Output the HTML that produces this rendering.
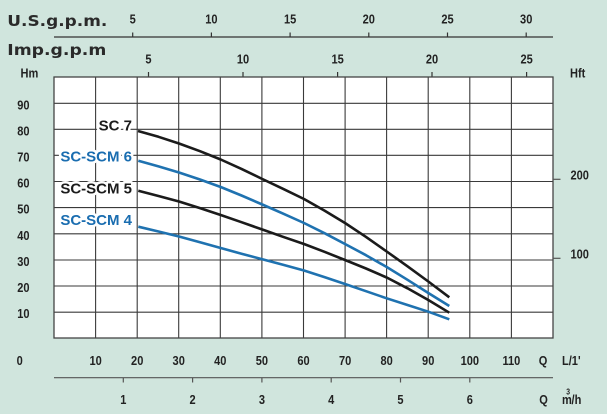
<!DOCTYPE html>
<html>
<head>
<meta charset="utf-8">
<style>
  html,body{margin:0;padding:0;background:#d0e5dd;}
  svg{display:block;}
  .n{font-family:"Liberation Sans",Arial,sans-serif;font-weight:bold;font-size:13px;fill:#222;}
  .t{font-family:"DejaVu Sans","Liberation Sans",sans-serif;font-weight:bold;font-size:15px;fill:#2a2a2a;}
  .lb{font-family:"Liberation Sans",Arial,sans-serif;font-weight:bold;font-size:15px;stroke:#fff;stroke-width:5;paint-order:stroke;stroke-linejoin:round;}
</style>
</head>
<body>
<svg width="607" height="414" viewBox="0 0 607 414" xmlns="http://www.w3.org/2000/svg">
  <rect x="0" y="0" width="607" height="414" fill="#d0e5dd"/>

  <!-- Top axis labels -->
  <text class="t" x="7.3" y="26" textLength="100" lengthAdjust="spacingAndGlyphs">U.S.g.p.m.</text>
  <text class="t" x="7.3" y="55" textLength="99" lengthAdjust="spacingAndGlyphs">Imp.g.p.m</text>

  <!-- US gpm axis -->
  <line x1="54" y1="37" x2="553" y2="37" stroke="#333" stroke-width="1.2"/>
  <g stroke="#333" stroke-width="1.2">
    <line x1="132.7" y1="32.5" x2="132.7" y2="37"/>
    <line x1="211.4" y1="32.5" x2="211.4" y2="37"/>
    <line x1="290.1" y1="32.5" x2="290.1" y2="37"/>
    <line x1="368.8" y1="32.5" x2="368.8" y2="37"/>
    <line x1="447.5" y1="32.5" x2="447.5" y2="37"/>
    <line x1="526.2" y1="32.5" x2="526.2" y2="37"/>
  </g>
  <g class="n" text-anchor="middle">
    <text transform="translate(132.7,23.3) scale(0.85,1)">5</text>
    <text transform="translate(211.4,23.3) scale(0.85,1)">10</text>
    <text transform="translate(290.1,23.3) scale(0.85,1)">15</text>
    <text transform="translate(368.8,23.3) scale(0.85,1)">20</text>
    <text transform="translate(447.5,23.3) scale(0.85,1)">25</text>
    <text transform="translate(526.2,23.3) scale(0.85,1)">30</text>
  </g>

  <!-- Imp gpm ticks -->
  <g stroke="#333" stroke-width="1.2">
    <line x1="148.5" y1="72" x2="148.5" y2="77"/>
    <line x1="243" y1="72" x2="243" y2="77"/>
    <line x1="337.6" y1="72" x2="337.6" y2="77"/>
    <line x1="432" y1="72" x2="432" y2="77"/>
    <line x1="526.6" y1="72" x2="526.6" y2="77"/>
  </g>
  <g class="n" text-anchor="middle">
    <text transform="translate(148.5,63.3) scale(0.85,1)">5</text>
    <text transform="translate(243,63.3) scale(0.85,1)">10</text>
    <text transform="translate(337.6,63.3) scale(0.85,1)">15</text>
    <text transform="translate(432,63.3) scale(0.85,1)">20</text>
    <text transform="translate(526.6,63.3) scale(0.85,1)">25</text>
  </g>

  <!-- Hm / Hft -->
  <text class="n" transform="translate(20.5,77.3) scale(0.85,1)">Hm</text>
  <text class="n" transform="translate(570,77.3) scale(0.85,1)">Hft</text>

  <!-- Plot area -->
  <rect x="54" y="77" width="499" height="261" fill="#ffffff"/>
  <g stroke="#3a3a3a" stroke-width="1.1">
    <line x1="95.6" y1="77" x2="95.6" y2="338"/>
    <line x1="137.2" y1="77" x2="137.2" y2="338"/>
    <line x1="178.7" y1="77" x2="178.7" y2="338"/>
    <line x1="220.3" y1="77" x2="220.3" y2="338"/>
    <line x1="261.9" y1="77" x2="261.9" y2="338"/>
    <line x1="303.5" y1="77" x2="303.5" y2="338"/>
    <line x1="345.1" y1="77" x2="345.1" y2="338"/>
    <line x1="386.6" y1="77" x2="386.6" y2="338"/>
    <line x1="428.2" y1="77" x2="428.2" y2="338"/>
    <line x1="469.8" y1="77" x2="469.8" y2="338"/>
    <line x1="511.4" y1="77" x2="511.4" y2="338"/>

    <line x1="54" y1="103.3" x2="553" y2="103.3"/>
    <line x1="54" y1="129.3" x2="553" y2="129.3"/>
    <line x1="54" y1="155.3" x2="553" y2="155.3"/>
    <line x1="54" y1="181.5" x2="553" y2="181.5"/>
    <line x1="54" y1="207.6" x2="553" y2="207.6"/>
    <line x1="54" y1="233.8" x2="553" y2="233.8"/>
    <line x1="54" y1="260" x2="553" y2="260"/>
    <line x1="54" y1="286" x2="553" y2="286"/>
    <line x1="54" y1="312.2" x2="553" y2="312.2"/>
  </g>
  <rect x="54" y="77" width="499" height="261" fill="none" stroke="#444" stroke-width="1.3"/>

  <!-- Hft ticks -->
  <g stroke="#555" stroke-width="1.2">
    <line x1="553" y1="179.3" x2="560.5" y2="179.3"/>
    <line x1="553" y1="258.3" x2="560.5" y2="258.3"/>
  </g>
  <g class="n">
    <text transform="translate(570.5,179.7) scale(0.85,1)">200</text>
    <text transform="translate(570.5,258.7) scale(0.85,1)">100</text>
  </g>

  <!-- Left Hm labels -->
  <g class="n" text-anchor="end">
    <text transform="translate(29.5,109.3) scale(0.85,1)">90</text>
    <text transform="translate(29.5,135.3) scale(0.85,1)">80</text>
    <text transform="translate(29.5,161.3) scale(0.85,1)">70</text>
    <text transform="translate(29.5,187.5) scale(0.85,1)">60</text>
    <text transform="translate(29.5,213.6) scale(0.85,1)">50</text>
    <text transform="translate(29.5,239.8) scale(0.85,1)">40</text>
    <text transform="translate(29.5,266) scale(0.85,1)">30</text>
    <text transform="translate(29.5,292) scale(0.85,1)">20</text>
    <text transform="translate(29.5,318.2) scale(0.85,1)">10</text>
  </g>

  <!-- Curves -->
  <g fill="none" stroke-width="2.6" stroke-linejoin="round" stroke-linecap="butt">
    <polyline stroke="#1b1b1b" points="138,131 158.5,136.8 179,143.5 200,151.2 220.7,159.5 241.5,168.9 262.3,179 283,188.8 304,199 324.5,210.6 345,223 366,236.9 386.7,251.5 407.5,266.3 428.3,281.5 449.3,297.3"/>
    <polyline stroke="#1f72b0" points="138.3,160.7 158.5,166.4 179,172.5 200,179.5 220.7,187 241.5,195.5 262.3,204.5 283,213.6 304,223 324.5,233.2 345,244 366,255.2 386.7,267 407.5,279.8 428.3,293 449.3,306"/>
    <polyline stroke="#1b1b1b" points="138.3,190.7 158.5,196 179,201.5 200,208.1 220.7,215 241.5,222.2 262.3,229.5 283,236.8 304,244 324.5,251.8 345,260 366,268.5 386.7,277.5 407.5,288.3 428.3,300 449.3,312.7"/>
    <polyline stroke="#1f72b0" points="138.3,226.7 158.5,231.5 179,236.5 200,242.2 220.7,248 241.5,253.7 262.3,259.3 283,264.8 304,270.5 324.5,277.1 345,284 366,291.2 386.7,298.3 407.5,305 428.3,311.7 449.3,319.3"/>
  </g>

  <!-- Series labels -->
  <g text-anchor="end">
    <text class="lb" x="132" y="130.7" fill="#1b1b1b">SC 7</text>
    <text class="lb" x="132" y="161.7" fill="#1a6db0">SC-SCM 6</text>
    <text class="lb" x="132" y="193.3" fill="#1b1b1b">SC-SCM 5</text>
    <text class="lb" x="132" y="225" fill="#1a6db0">SC-SCM 4</text>
  </g>

  <!-- Bottom L/min labels -->
  <g class="n" text-anchor="middle">
    <text transform="translate(19.7,365) scale(0.85,1)">0</text>
    <text transform="translate(95.6,365) scale(0.85,1)">10</text>
    <text transform="translate(137.2,365) scale(0.85,1)">20</text>
    <text transform="translate(178.7,365) scale(0.85,1)">30</text>
    <text transform="translate(220.3,365) scale(0.85,1)">40</text>
    <text transform="translate(261.9,365) scale(0.85,1)">50</text>
    <text transform="translate(303.5,365) scale(0.85,1)">60</text>
    <text transform="translate(345.1,365) scale(0.85,1)">70</text>
    <text transform="translate(386.6,365) scale(0.85,1)">80</text>
    <text transform="translate(428.2,365) scale(0.85,1)">90</text>
    <text transform="translate(469.8,365) scale(0.85,1)">100</text>
    <text transform="translate(511.4,365) scale(0.85,1)">110</text>
    <text transform="translate(543,365) scale(0.85,1)">Q</text>
  </g>
  <text class="n" transform="translate(562,365) scale(0.85,1)">L/1'</text>

  <!-- m3/h axis -->
  <line x1="54" y1="377.7" x2="553" y2="377.7" stroke="#555" stroke-width="1.2"/>
  <g stroke="#555" stroke-width="1.2">
    <line x1="123.3" y1="377.7" x2="123.3" y2="382.5"/>
    <line x1="192.6" y1="377.7" x2="192.6" y2="382.5"/>
    <line x1="261.9" y1="377.7" x2="261.9" y2="382.5"/>
    <line x1="331.2" y1="377.7" x2="331.2" y2="382.5"/>
    <line x1="400.5" y1="377.7" x2="400.5" y2="382.5"/>
    <line x1="469.8" y1="377.7" x2="469.8" y2="382.5"/>
  </g>
  <g class="n" text-anchor="middle">
    <text transform="translate(123.3,404) scale(0.85,1)">1</text>
    <text transform="translate(192.6,404) scale(0.85,1)">2</text>
    <text transform="translate(261.9,404) scale(0.85,1)">3</text>
    <text transform="translate(331.2,404) scale(0.85,1)">4</text>
    <text transform="translate(400.5,404) scale(0.85,1)">5</text>
    <text transform="translate(469.8,404) scale(0.85,1)">6</text>
    <text transform="translate(543.5,404) scale(0.85,1)">Q</text>
  </g>
  <text class="n" transform="translate(562,404) scale(0.85,1)">m</text>
  <text class="n" transform="translate(566.3,394.5) scale(0.85,1)" style="font-size:8px">3</text>
  <text class="n" transform="translate(571.5,404) scale(0.85,1)">/h</text>
</svg>
</body>
</html>
